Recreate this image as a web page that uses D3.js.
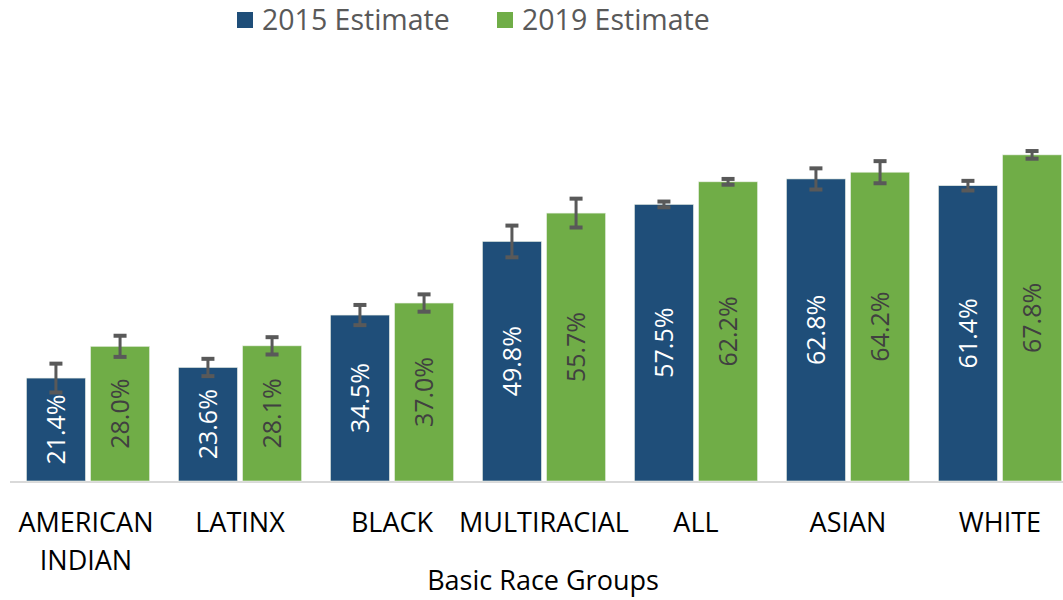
<!DOCTYPE html>
<html>
<head>
<meta charset="utf-8">
<script src="https://cdn.jsdelivr.net/npm/d3@7"></script>
<style>
  body { margin: 0; background: #fff; }
  svg { font-family: "Open Sans", "DejaVu Sans", sans-serif; }
</style>
</head>
<body>
<div id="chart"></div>
<script>
// data
const groups = ["AMERICAN INDIAN", "LATINX", "BLACK", "MULTIRACIAL", "ALL", "ASIAN", "WHITE"];
const groupLines = [["AMERICAN", "INDIAN"], ["LATINX"], ["BLACK"], ["MULTIRACIAL"], ["ALL"], ["ASIAN"], ["WHITE"]];
const seriesNames = ["2015 Estimate", "2019 Estimate"];
const est2015 = [21.4, 23.6, 34.5, 49.8, 57.5, 62.8, 61.4];
const est2019 = [28.0, 28.1, 37.0, 55.7, 62.2, 64.2, 67.8];
const err2015 = [3.0, 1.8, 2.1, 3.3, 0.6, 2.2, 1.0];
const err2019 = [2.2, 1.8, 1.8, 3.0, 0.6, 2.3, 0.8];

const colors = ["#1f4e79", "#70ad47"];
const labelColors = ["#ffffff", "#404040"];

const width = 1063, height = 600;
const baseY = 481;

const svg = d3.select("#chart").append("svg")
  .attr("width", width).attr("height", height);

/* scales */
const x0 = d3.scaleBand().domain(groups).range([12, 1076]).paddingInner(0.19).paddingOuter(0.095);
const x1 = d3.scaleBand().domain(seriesNames).range([0, x0.bandwidth()]).paddingInner(0.08);
const y = d3.scaleLinear().domain([0, 100]).range([baseY, 0]);

const rows = groups.map((g, i) => ({
  group: g,
  vals: [
    {s: 0, name: seriesNames[0], v: est2015[i], e: err2015[i]},
    {s: 1, name: seriesNames[1], v: est2019[i], e: err2019[i]}
  ]
}));

/* axis line */
svg.append("line")
  .attr("x1", 10).attr("x2", width)
  .attr("y1", baseY + 1).attr("y2", baseY + 1)
  .attr("stroke", "#d9d9d9").attr("stroke-width", 2);

/* bars */
const g = svg.selectAll("g.grp")
  .data(rows).enter().append("g")
  .attr("class", "grp")
  .attr("transform", d => "translate(" + x0(d.group) + ",0)");

const bar = g.selectAll("g.bar")
  .data(d => d.vals).enter().append("g")
  .attr("class", "bar");

bar.append("rect")
  .attr("x", d => x1(d.name))
  .attr("y", d => y(d.v))
  .attr("width", x1.bandwidth())
  .attr("height", d => baseY - y(d.v))
  .attr("fill", d => colors[d.s])
  .attr("stroke", "#e8efe4").attr("stroke-width", 0.6);

/* value labels, rotated, centered in the bar */
bar.append("text")
  .attr("transform", d => "translate(" + (x1(d.name) + x1.bandwidth() / 2 + 9) + "," + ((y(d.v) + baseY) / 2) + ") rotate(-90)")
  .attr("text-anchor", "middle")
  .attr("font-size", 25)
  .attr("fill", d => labelColors[d.s])
  .text(d => d.v.toFixed(1) + "%");

/* error bars */
const eb = bar.append("g")
  .attr("stroke", "#595959").attr("stroke-width", 3);
eb.append("line")
  .attr("x1", d => x1(d.name) + x1.bandwidth() / 2)
  .attr("x2", d => x1(d.name) + x1.bandwidth() / 2)
  .attr("y1", d => y(d.v + d.e))
  .attr("y2", d => y(d.v - d.e));
eb.selectAll("line.cap")
  .data(d => [{d: d, v: d.v + d.e}, {d: d, v: d.v - d.e}]).enter().append("line")
  .attr("class", "cap")
  .attr("x1", c => x1(c.d.name) + x1.bandwidth() / 2 - 6.5)
  .attr("x2", c => x1(c.d.name) + x1.bandwidth() / 2 + 6.5)
  .attr("y1", c => y(c.v))
  .attr("y2", c => y(c.v))
  .attr("stroke-width", 4);

/* category labels */
const cat = svg.selectAll("text.cat")
  .data(groups).enter().append("text")
  .attr("class", "cat")
  .attr("text-anchor", "middle")
  .attr("font-size", 27)
  .attr("fill", "#000");
cat.selectAll("tspan")
  .data((d, i) => groupLines[i].map(t => ({t: t, g: d}))).enter().append("tspan")
  .attr("x", d => x0(d.g) + x0.bandwidth() / 2 - (d.g === "AMERICAN INDIAN" ? 2 : 0))
  .attr("y", (d, i) => 532 + i * 38)
  .text(d => d.t);

/* axis title */
svg.append("text")
  .attr("x", 543).attr("y", 590)
  .attr("text-anchor", "middle")
  .attr("font-size", 27)
  .attr("fill", "#000")
  .text("Basic Race Groups");

/* legend */
const legX = [237, 497];
const leg = svg.selectAll("g.leg")
  .data(seriesNames).enter().append("g")
  .attr("class", "leg")
  .attr("transform", (d, i) => "translate(" + legX[i] + ",12)");
leg.append("rect")
  .attr("width", 16).attr("height", 16)
  .attr("fill", (d, i) => colors[i]);
leg.append("text")
  .attr("x", 25).attr("y", 18)
  .attr("font-size", 28.5)
  .attr("fill", "#595959")
  .text(d => d);
</script>
</body>
</html>
